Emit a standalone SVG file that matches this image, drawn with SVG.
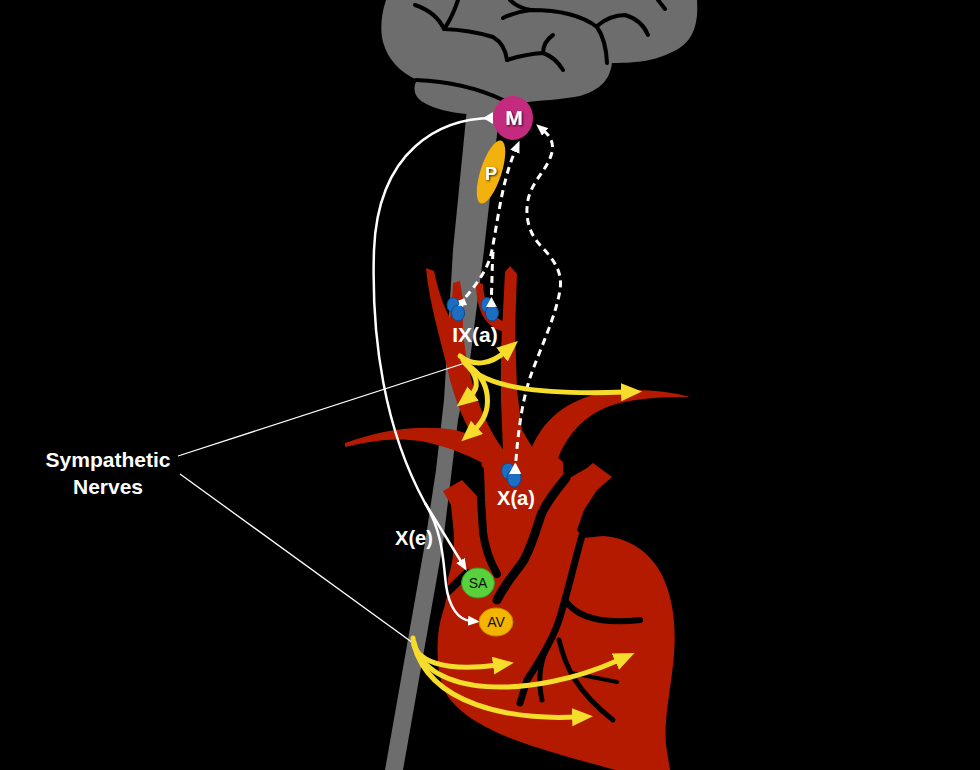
<svg xmlns="http://www.w3.org/2000/svg" width="980" height="770" viewBox="0 0 980 770">
<defs>
<style>
.gray{fill:#6d6d6d}
.sulc{fill:none;stroke:#000;stroke-width:4;stroke-linecap:round;stroke-linejoin:round}
.red{fill:#b31a00}
.gap{fill:none;stroke:#000;stroke-linecap:round;stroke-linejoin:round}
.yel{fill:none;stroke:#f6dc2b;stroke-width:5;stroke-linecap:round}
.eff{fill:none;stroke:#fff;stroke-width:2.5}
.aff{fill:none;stroke:#fff;stroke-width:3;stroke-dasharray:7 5}
.ptr{fill:none;stroke:#fff;stroke-width:1.3}
.blue{fill:#1b6ec2;stroke:#0c4a8c;stroke-width:1}
.lbl{font-family:"Liberation Sans",Arial,Helvetica,sans-serif;font-weight:bold;fill:#fff;text-anchor:middle}
.nd{font-family:"Liberation Sans",Arial,Helvetica,sans-serif;fill:#111;text-anchor:middle;font-size:14px}
</style>
<marker id="ya" markerUnits="userSpaceOnUse" markerWidth="24" markerHeight="20" refX="4" refY="9" orient="auto"><path d="M0,0 L21,9 L0,18 Z" fill="#f6dc2b"/></marker>
<marker id="wa" markerUnits="userSpaceOnUse" markerWidth="14" markerHeight="12" refX="3" refY="5" orient="auto"><path d="M0,0 L12,5 L0,10 Z" fill="#fff"/></marker>
<marker id="rc" markerUnits="userSpaceOnUse" markerWidth="12" markerHeight="12" refX="0" refY="6" orient="auto"><path d="M0,0 L10,6 L0,12 Z" fill="#fff"/></marker>
<filter id="ts" x="-30%" y="-30%" width="160%" height="160%"><feDropShadow dx="1" dy="1" stdDeviation="0.8" flood-color="#000" flood-opacity="0.8"/></filter>
</defs>
<rect width="980" height="770" fill="#000"/>

<g id="spinal-cord">
<path class="gray" d="M467,108 L500,108 L484,250 L470,360 L458,420 L453,460 L443,543 L403,770 L385,770 L425,543 L436,470 L444,400 L453,250 Z"/>
</g>

<g id="brain">
<path class="gray" d="M386,0 L697,0 C699,30 690,45 670,53 C655,60 640,63 612,63 C610,80 600,90 580,96 C560,100 540,100 520,103 L498,110 L466,114 C445,112 425,106 418,98 C413,92 414,85 417,80 C400,72 388,60 383,42 C380,30 381,15 386,0 Z"/>
<path class="sulc" d="M415,5 Q436,12 444,29"/>
<path class="sulc" d="M458,0 Q452,18 444,29 Q470,30 493,37 Q505,44 507,60"/>
<path class="sulc" d="M507,60 Q525,54 543,53 Q555,57 563,70"/>
<path class="sulc" d="M543,53 Q543,42 553,35"/>
<path class="sulc" d="M510,0 Q518,8 531,10"/>
<path class="sulc" d="M503,18 Q515,12 531,10 Q575,10 597,27 Q606,40 607,63"/>
<path class="sulc" d="M597,26 Q610,15 625,15 Q642,20 648,35"/>
<path class="sulc" d="M658,0 Q662,5 665,9"/>
<path class="sulc" d="M416,80 Q465,82 503,100"/>
</g>

<g id="arteries">
<path class="red" d="M426,268 L434,271 C438,290 443,305 450,318 L452,300 L453,283 L460,281 L463,300 L463,330 C466,370 480,420 505,452 L486,456 C470,435 458,410 450,380 C444,350 430,310 426,268 Z"/>
<path class="red" d="M510,266 L517,274 L515,330 L517,390 L522,430 L535,452 L503,452 L501,400 L501,350 L505,272 Z"/>
<path class="red" d="M476,282 L483,284 C484,300 488,315 505,322 L505,332 C485,328 476,310 476,282 Z"/>
<path class="red" d="M345,443 C380,430 420,424 455,430 C475,435 490,445 500,455 L497,472 C480,460 455,448 420,441 C395,437 370,441 345,447 Z"/>
<path class="red" d="M530,452 C540,425 560,405 590,396 C620,388 655,388 690,397 C660,397 630,398 607,407 C585,416 568,433 558,458 Z"/>
</g>

<g id="heart">
<path class="red" d="M443,491 L462,480 L477,496 L482,462 L500,452 L540,452 L557,457 L563,462 L563,472 L566,480 L587,468 L593,463 L612,477 L597,490 L584,510 L577,530 L583,538 L603,536 C630,538 650,552 662,575 C674,600 677,630 673,665 C669,700 664,720 666,745 L670,770 L615,770 C580,760 540,750 510,738 C480,726 458,712 447,695 C437,678 436,650 439,628 C441,615 446,605 446,598 L448,578 C454,560 455,540 453,525 L451,505 Z"/>
<path class="gap" stroke-width="8" d="M480,470 L481,500 L483,532 Q486,555 497,574"/>
<path class="gap" stroke-width="9" d="M566,478 C556,490 546,503 541,515 C536,530 532,545 524,560 C516,572 506,582 497,600"/>
<path class="gap" stroke-width="8" d="M441,598 L467,573"/>
<path class="gap" stroke-width="7" d="M583,532 C575,560 568,590 562,610 C556,635 540,660 527,680 L520,703"/>
<path class="gap" stroke-width="6" d="M565,600 C575,615 595,625 640,620"/>
<path class="gap" stroke-width="5" d="M546,650 C540,664 538,682 542,700"/>
<path class="gap" stroke-width="5" d="M559,640 C565,665 575,690 613,720"/>
<path class="gap" stroke-width="4" d="M572,673 L617,682"/>
</g>

<g id="P">
<ellipse cx="491" cy="172" rx="10.5" ry="33" transform="rotate(18 491 172)" fill="#f2b10c"/>
<text class="lbl" x="491" y="180" font-size="18" filter="url(#ts)">P</text>
</g>

<g id="M">
<ellipse cx="513" cy="118" rx="20" ry="22" fill="#c42a7e"/>
<text class="lbl" x="514" y="125" font-size="21" filter="url(#ts)">M</text>
</g>

<g id="connectors">
<path class="eff" marker-start="url(#rc)" marker-end="url(#wa)" d="M493,118 C440,118 378,150 374,250 C371,340 385,430 425,503 L462,563"/>
<path class="eff" marker-end="url(#wa)" d="M425,503 C443,533 443,560 446,585 C449,607 458,620 471,621"/>
<path class="aff" marker-start="url(#rc)" marker-end="url(#wa)" d="M458,306 C472,290 488,272 492,250 C496,230 500,200 506,178 C510,163 513,156 516,149"/>
<path class="aff" marker-start="url(#rc)" d="M491,307 C492,285 492,268 493,252"/>
<path class="aff" marker-start="url(#rc)" marker-end="url(#wa)" d="M515,473 C518,430 522,400 532,372 C542,345 556,315 560,290 C563,270 552,258 540,245 C528,232 525,215 528,200 C532,180 548,170 552,152 C554,142 550,136 543,130"/>
<path class="ptr" d="M178,456 L465,363"/>
<path class="ptr" d="M180,474 L413,643"/>
<path class="yel" marker-end="url(#ya)" d="M460,356 C475,368 492,363 505,352"/>
<path class="yel" marker-end="url(#ya)" d="M463,360 C480,388 540,395 625,392"/>
<path class="yel" marker-end="url(#ya)" d="M464,362 C478,375 480,388 470,396"/>
<path class="yel" marker-end="url(#ya)" d="M466,364 C492,380 494,412 474,430"/>
<path class="yel" marker-end="url(#ya)" d="M413,638 C413,662 445,672 497,665"/>
<path class="yel" marker-end="url(#ya)" d="M414,642 C425,697 530,700 619,660"/>
<path class="yel" marker-end="url(#ya)" d="M414,645 C430,705 510,720 576,717"/>
</g>

<g id="IX-a">
<ellipse class="blue" cx="453" cy="305" rx="6" ry="7.5"/>
<ellipse class="blue" cx="458" cy="313" rx="6.5" ry="8"/>
<ellipse class="blue" cx="487" cy="305" rx="6" ry="7.5"/>
<ellipse class="blue" cx="492" cy="313" rx="6.5" ry="8"/>
<path d="M458,306 L464,298 L467,305 Z" fill="#fff"/>
<path d="M486,307 L491,298 L496,307 Z" fill="#fff"/>
<text class="lbl" x="475" y="342" font-size="21">IX(a)</text>
</g>

<g id="X-a">
<ellipse class="blue" cx="508" cy="471" rx="6.5" ry="8"/>
<ellipse class="blue" cx="514" cy="478" rx="7" ry="9"/>
<path d="M509,474 L515,463 L521,474 Z" fill="#fff"/>
<text class="lbl" x="516" y="505" font-size="20">X(a)</text>
</g>

<g id="SA">
<ellipse cx="478" cy="583" rx="16.5" ry="15" fill="#58d13c" stroke="#3a9a26" stroke-width="1"/>
<text class="nd" x="478" y="588">SA</text>
</g>

<g id="AV">
<ellipse cx="496" cy="622" rx="17" ry="14" fill="#f4b400" stroke="#c48a00" stroke-width="1"/>
<text class="nd" x="496" y="627">AV</text>
</g>

<g id="label-Xe">
<text class="lbl" x="414" y="545" font-size="20">X(e)</text>
</g>

<g id="label-sympathetic">
<text class="lbl" x="108" y="467" font-size="21">Sympathetic</text>
<text class="lbl" x="108" y="494" font-size="21">Nerves</text>
</g>
</svg>
